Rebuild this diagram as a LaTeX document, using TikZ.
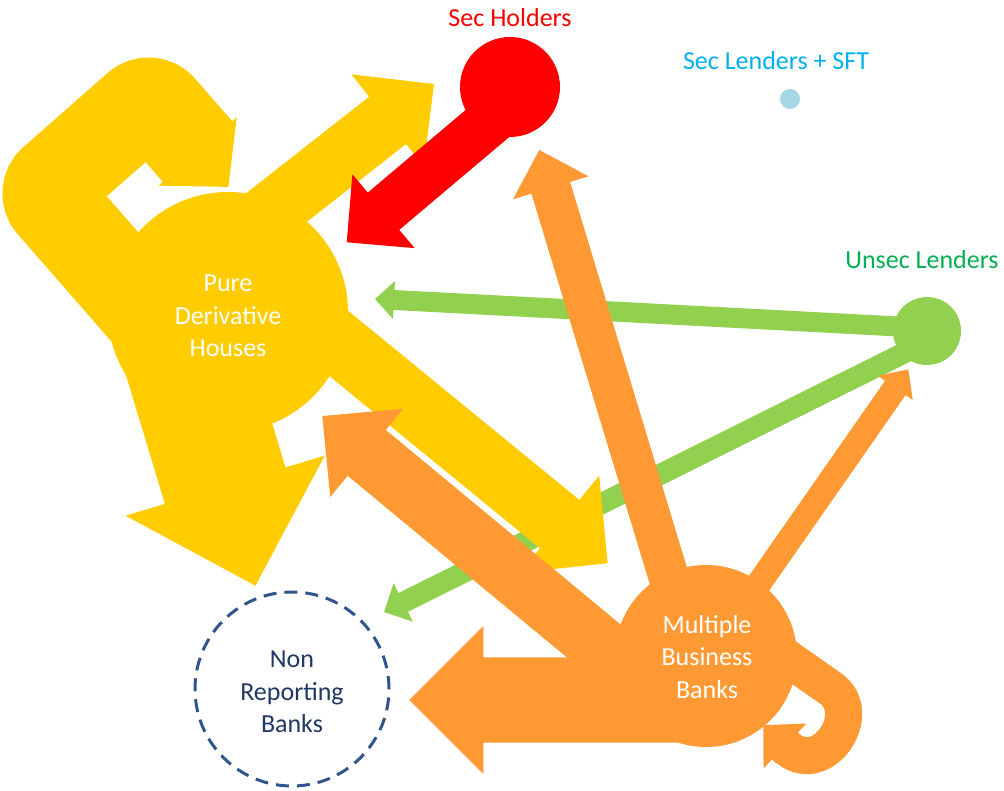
\documentclass[tikz,border=0pt]{standalone}
\usepackage{fontspec}
\setmainfont{Carlito}
\usetikzlibrary{calc}
\definecolor{cyel}{RGB}{255,204,0}
\definecolor{corg}{RGB}{255,153,51}
\definecolor{cred}{RGB}{255,0,0}
\definecolor{cgrn}{RGB}{146,208,80}
\definecolor{cgrntxt}{RGB}{0,176,80}
\definecolor{cblutxt}{RGB}{0,176,240}
\definecolor{clblue}{RGB}{166,214,230}
\definecolor{cnavy}{RGB}{47,85,140}
\definecolor{cnavytxt}{RGB}{31,56,100}
% #1 start, #2 tip, #3 half shaft, #4 half head, #5 head length, #6 colour
\newcommand\blockarrow[6]{%
  \coordinate (ba-b) at ($(#2)!#5pt!(#1)$);
  \fill[#6] ($(#1)!#3pt!90:(#2)$) -- ($(ba-b)!#3pt!90:(#2)$) -- ($(ba-b)!#4pt!90:(#2)$)
    -- (#2) -- ($(ba-b)!#4pt!-90:(#2)$) -- ($(ba-b)!#3pt!-90:(#2)$) -- ($(#1)!#3pt!-90:(#2)$) -- cycle;
}
\begin{document}
\begin{tikzpicture}[x=1pt,y=-1pt,
  hub/.style={circle, inner sep=0pt},
  txt/.style={font=\fontsize{26}{32.5}\selectfont, align=center, inner sep=0pt}]
\useasboundingbox (0,0) rectangle (1004,791);

% ---------- green ----------
\node[hub, fill=cgrn, minimum size=68pt] (unsec) at (927,331) {};
\coordinate (g1s) at (927,328); \coordinate (g1t) at (375,299);
\coordinate (g2s) at (918,346); \coordinate (g2t) at (384,612);
\blockarrow{g1s}{g1t}{10}{19}{19}{cgrn}
\blockarrow{g2s}{g2t}{10.5}{21.5}{21.5}{cgrn}

% ---------- yellow ----------
\node[hub, fill=cyel, minimum size=240pt] (pdh) at (228,312) {};
\coordinate (la) at (159,326); \coordinate (lb) at (42,192);
\coordinate (lc) at (150,97);  \coordinate (ld) at (197.5,151.5);
\draw[cyel, line width=92pt, rounded corners=16pt] (la) -- (lb) -- (lc) -- (ld);
\coordinate (lhs) at (191,144); \coordinate (lht) at (228.4,186.9);
\blockarrow{lhs}{lht}{46}{52}{47}{cyel}
\coordinate (y2s) at (230,244); \coordinate (y2t) at (434,84);
\blockarrow{y2s}{y2t}{30}{58.5}{59}{cyel}
\coordinate (y4s) at (168.7,298.6); \coordinate (y4t) at (255.4,585.7);
\blockarrow{y4s}{y4t}{63}{104}{104.5}{cyel}
\coordinate (y5s) at (282.5,297.4); \coordinate (y5t) at (607.6,563.3);
\blockarrow{y5s}{y5t}{31.2}{62.6}{62}{cyel}

% ---------- red ----------
\node[hub, fill=cred, minimum size=100pt] (sech) at (510,87) {};
\coordinate (rs) at (499.8,113.1); \coordinate (rt) at (346.7,242.3);
\blockarrow{rs}{rt}{24.4}{48.3}{48.2}{cred}

% ---------- orange ----------
\node[hub, fill=corg, minimum size=182pt] (mbb) at (706,656) {};
\coordinate (o1s) at (700,700); \coordinate (o1t) at (409.3,700);
\blockarrow{o1s}{o1t}{42.7}{74}{74}{corg}
\coordinate (o2s) at (690.1,647.6); \coordinate (o2t) at (539.3,150);
\blockarrow{o2s}{o2t}{20.2}{39.5}{39.5}{corg}
\coordinate (o3s) at (645.7,684); \coordinate (o3t) at (322.3,416);
\blockarrow{o3s}{o3t}{29.8}{57.2}{57.7}{corg}
\coordinate (o4s) at (736.7,615.3); \coordinate (o4t) at (908.3,369.3);
\blockarrow{o4s}{o4t}{12.5}{21.2}{22.7}{corg}
\coordinate (oa) at (770,646); \coordinate (ob) at (830,688); \coordinate (oc) at (785,746);
\draw[corg, line width=37pt] (oa) -- (ob) .. controls (867,713.5) and (821,780.5) .. (oc);
\coordinate (ohs) at (789,749.8); \coordinate (oht) at (763.3,725.2);
\blockarrow{ohs}{oht}{18.5}{31}{30}{corg}

% ---------- other nodes ----------
\node[hub, draw=cnavy, line width=3pt, dash pattern=on 13pt off 8pt, minimum size=194pt] (nrb) at (292,689) {};
\node[hub, fill=clblue, minimum size=20pt] (secl) at (790,99) {};

% ---------- texts ----------
\node[txt, text=white] at (228,316) {Pure\\Derivative\\Houses};
\node[txt, text=white] at (707,657) {Multiple\\Business\\Banks};
\node[txt, text=cnavytxt] at (292,692) {Non\\Reporting\\Banks};
\node[txt, text=cred] (sechl) at (510,18) {Sec Holders};
\node[txt, text=cblutxt] (secll) at (776,61) {Sec Lenders + SFT};
\node[txt, text=cgrntxt] (unsecl) at (922,260) {Unsec Lenders};
\end{tikzpicture}
\end{document}
